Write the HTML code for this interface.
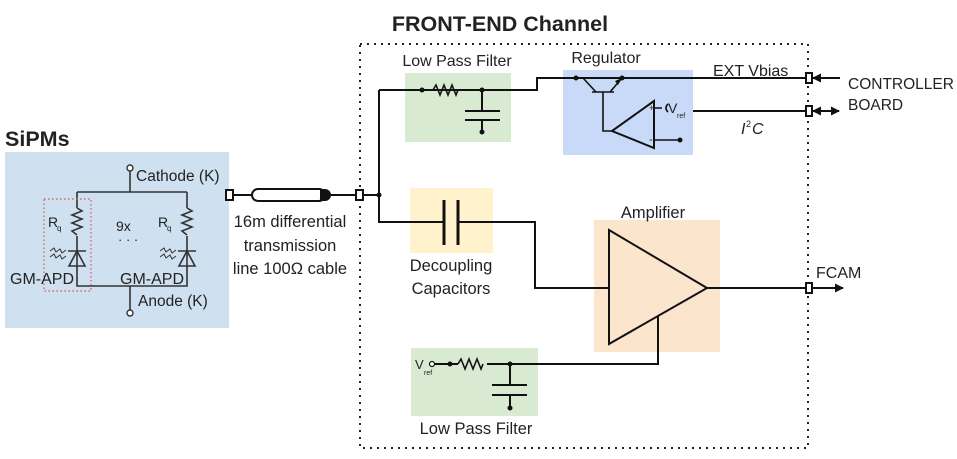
<!DOCTYPE html>
<html><head><meta charset="utf-8"><style>
html,body{margin:0;padding:0;background:#fff}
svg{display:block}
text{font-family:"Liberation Sans",Arial,sans-serif;fill:#222}
</style></head><body>
<svg width="957" height="459" viewBox="0 0 957 459" xmlns="http://www.w3.org/2000/svg">
<defs>
<marker id="ah" markerWidth="9" markerHeight="9" refX="8" refY="4.5" orient="auto" markerUnits="userSpaceOnUse"><path d="M0,0 L9,4.5 L0,9 z" fill="#111"/></marker>
</defs>
<rect x="5" y="152" width="224" height="176" fill="#cfe0f1"/>
<rect x="405" y="73" width="106" height="69" fill="#d9ead3"/>
<rect x="563" y="70" width="130" height="85" fill="#c9daf8"/>
<rect x="410" y="188" width="83" height="65" fill="#fff2cc"/>
<rect x="594" y="220" width="126" height="132" fill="#fce5cd"/>
<rect x="411" y="348" width="127" height="68" fill="#d9ead3"/>
<rect x="360" y="44" width="448" height="404" fill="none" stroke="#222" stroke-width="2" stroke-dasharray="2,5"/>
<text x="500" y="31" font-size="21.5" font-weight="bold" text-anchor="middle" fill="#111">FRONT-END Channel</text>
<text x="5" y="146" font-size="21.5" font-weight="bold" fill="#111">SiPMs</text>

<g stroke="#333" stroke-width="1.6" fill="none">
<path d="M130,170 V192 M77,192 H187 M77,192 V208 M77,236 V286 H187 V236 M187,192 V208 M130,286 V310"/>
<path d="M77,208 l5,3 l-10,4 l10,4 l-10,4 l10,4 l-10,4 l5,4"/>
<path d="M187,208 l5,3 l-10,4 l10,4 l-10,4 l10,4 l-10,4 l5,4"/>
<path d="M68,251 H86 M77,251 L69,266 H85 Z M178,251 H196 M187,251 L179,266 H195 Z"/>
<path d="M50,251 l4,-3 l2,4 l4,-3 l2,4 l4,-3 M50,257 l4,-3 l2,4 l4,-3 l2,4 l4,-3 M160,251 l4,-3 l2,4 l4,-3 l2,4 l4,-3 M160,257 l4,-3 l2,4 l4,-3 l2,4 l4,-3" stroke-width="1"/>
</g>
<circle cx="130" cy="168" r="3" fill="#fff" stroke="#333" stroke-width="1.4"/>
<circle cx="130" cy="313" r="3" fill="#fff" stroke="#333" stroke-width="1.4"/>
<rect x="44" y="199" width="47" height="92" fill="none" stroke="#e05050" stroke-width="1.2" stroke-dasharray="1.5,2.5"/>
<text x="48" y="227" font-size="14">R</text><text x="57" y="231" font-size="8">q</text>
<text x="158" y="227" font-size="14">R</text><text x="167" y="231" font-size="8">q</text>
<text x="116" y="231" font-size="14">9x</text>
<text x="118" y="244" font-size="13">·  ·  ·</text>
<text x="10" y="284" font-size="16">GM-APD</text>
<text x="120" y="284" font-size="16">GM-APD</text>
<text x="136" y="181" font-size="15.5">Cathode (K)</text>
<text x="138" y="306" font-size="15.5">Anode (K)</text>

<g stroke="#111" stroke-width="2" fill="none">
<path d="M233,195 H252 M325,195 H356 M363,195 H379"/>
<rect x="252" y="189" width="73" height="12" rx="6" fill="#fff"/>
<path d="M379,90 V222 H444 M458,222 H535 V288 H609"/>
<path d="M379,90 H537 V78 H806"/>
<path d="M693,111 H806"/>
<path d="M482,90 V111 M465,111 H500 M465,120 H500 M482,120 V132"/>
<path d="M444,200 V245 M458,200 V245" stroke-width="3"/>
<path d="M609,230 L707,288 L609,344 Z"/>
<path d="M707,288 H806"/>
<path d="M811,288 H843" marker-end="url(#ah)"/>
<path d="M433,364 H458 M487,364 H658 V316"/>
<path d="M510,364 V385 M492,385 H527 M492,395 H527 M510,395 V408"/>
<path d="M612,131 L654,101 V148 Z"/>
</g>
<g stroke="#111" stroke-width="1.6" fill="none">
<path d="M433,90 l3,-5 l4,10 l4,-10 l4,10 l4,-10 l4,10 l2,-5"/>
<path d="M458,364 l3,-5 l4,10 l4,-10 l4,10 l4,-10 l4,10 l2,-5"/>
<path d="M576,78 H583 L596,92 M592,92 H614 M603,92 V131 H612 M610,92 L622,78"/>
<path d="M654,108 H662 M654,140 H680 M668,104 q-4,4 0,8"/>
</g>
<path d="M622,78 L615,81 L618,85 Z" fill="#111"/>
<text x="649" y="111" font-size="9">+</text>
<text x="649" y="143" font-size="11">-</text>
<text x="668" y="113" font-size="14">V</text><text x="677" y="118" font-size="7">ref</text>
<circle cx="576" cy="78" r="2.5" fill="#111"/><circle cx="622" cy="78" r="2.5" fill="#111"/>
<circle cx="680" cy="140" r="2.5" fill="#111"/>
<circle cx="422" cy="90" r="2.5" fill="#111"/><circle cx="482" cy="90" r="2.5" fill="#111"/><circle cx="482" cy="132" r="2.5" fill="#111"/>
<circle cx="379" cy="195" r="2.5" fill="#111"/>
<circle cx="450" cy="364" r="2.5" fill="#111"/><circle cx="510" cy="364" r="2.5" fill="#111"/><circle cx="510" cy="408" r="2.5" fill="#111"/>
<circle cx="432" cy="364" r="2.5" fill="#fff" stroke="#111" stroke-width="1.2"/>
<g fill="#fff" stroke="#111" stroke-width="2">
<rect x="226" y="190" width="7" height="10"/>
<rect x="356" y="190" width="7" height="10"/>
<rect x="806" y="73" width="6" height="10"/>
<rect x="806" y="106" width="6" height="10"/>
<rect x="806" y="283" width="6" height="10"/>
</g>
<path d="M320,189 h5 a6,6 0 0 1 0,12 h-5 z" fill="#111"/>
<path d="M840,78 H813" stroke="#111" stroke-width="2" marker-end="url(#ah)"/>
<path d="M826,111 H839" stroke="#111" stroke-width="2" marker-end="url(#ah)"/>
<path d="M826,111 H813" stroke="#111" stroke-width="2" marker-end="url(#ah)"/>
<text x="290" y="227" font-size="16.5" text-anchor="middle">16m differential</text>
<text x="290" y="251" font-size="16.5" text-anchor="middle">transmission</text>
<text x="290" y="274" font-size="16.5" text-anchor="middle">line 100Ω cable</text>
<text x="457" y="66" font-size="16" text-anchor="middle">Low Pass Filter</text>
<text x="606" y="63" font-size="16" text-anchor="middle">Regulator</text>
<text x="713" y="76" font-size="16">EXT Vbias</text>
<text x="741" y="134" font-size="16" font-style="italic">I</text><text x="746" y="127" font-size="9">2</text><text x="752" y="134" font-size="16" font-style="italic">C</text>
<text x="848" y="89" font-size="15.5">CONTROLLER</text>
<text x="848" y="110" font-size="15.5">BOARD</text>
<text x="451" y="271" font-size="16.5" text-anchor="middle">Decoupling</text>
<text x="451" y="294" font-size="16.5" text-anchor="middle">Capacitors</text>
<text x="653" y="218" font-size="16.5" text-anchor="middle">Amplifier</text>
<text x="816" y="278" font-size="16">FCAM</text>
<text x="415" y="369" font-size="13">V</text><text x="424" y="375" font-size="7">ref</text>
<text x="476" y="434" font-size="16.5" text-anchor="middle">Low Pass Filter</text>
</svg>
</body></html>
